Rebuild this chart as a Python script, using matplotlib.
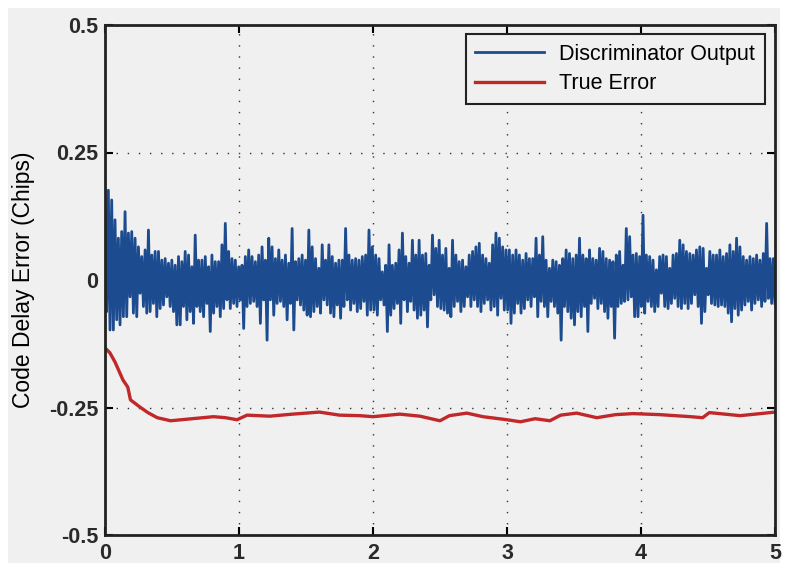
import numpy as np
import matplotlib.pyplot as plt
from matplotlib.patches import Rectangle

plt.rcParams['font.family'] = ['Liberation Sans', 'DejaVu Sans']

# discriminator output, upper / lower swing of each short block of samples (chips)
disc_hi = [
    0.176, 0.176, 0.157, 0.118, 0.082, 0.095, 0.134, 0.092, 0.095, 0.082,
    0.065, 0.046, 0.059, 0.098, 0.049, 0.056, 0.056, 0.039, 0.042, 0.033,
    0.039, 0.029, 0.046, 0.036, 0.056, 0.049, 0.026, 0.088, 0.039, 0.039,
    0.046, 0.026, 0.049, 0.036, 0.036, 0.069, 0.111, 0.056, 0.042, 0.039,
    0.026, 0.029, 0.046, 0.059, 0.046, 0.036, 0.049, 0.065, 0.039, 0.082,
    0.065, 0.042, 0.059, 0.039, 0.049, 0.033, 0.101, 0.036, 0.042, 0.049,
    0.039, 0.098, 0.065, 0.042, 0.023, 0.069, 0.039, 0.069, 0.046, 0.033,
    0.039, 0.039, 0.101, 0.049, 0.039, 0.042, 0.039, 0.046, 0.049, 0.098,
    0.065,
    0.049, 0.042, 0.016, 0.029, 0.069, 0.029, 0.033, 0.059, 0.092, 0.046,
    0.033, 0.078, 0.049, 0.078, 0.049, 0.052, 0.029, 0.088, 0.062, 0.078,
    0.049, 0.062, 0.023, 0.078, 0.049, 0.036, 0.039, 0.026, 0.049, 0.056,
    0.065, 0.072, 0.049, 0.042, 0.033, 0.069, 0.092, 0.082, 0.065, 0.059,
    0.059,
    0.049, 0.059, 0.049, 0.039, 0.052, 0.042, 0.042, 0.082, 0.049, 0.085,
    0.039, 0.023, 0.039, 0.036, 0.029, 0.042, 0.059, 0.052, 0.042, 0.049,
    0.082, 0.049, 0.042, 0.059, 0.042, 0.039, 0.062, 0.056, 0.042, 0.039,
    0.036, 0.049, 0.056, 0.029, 0.101, 0.085, 0.049, 0.052, 0.046, 0.127,
    0.049, 0.046, 0.039, 0.020, 0.046, 0.049, 0.046, 0.023, 0.049, 0.052,
    0.078, 0.069, 0.056, 0.052, 0.049, 0.059, 0.065, 0.062, 0.023, 0.056,
    0.049, 0.049, 0.059, 0.046, 0.052, 0.069, 0.056, 0.082, 0.065, 0.046,
    0.039, 0.046, 0.042, 0.049, 0.039, 0.052, 0.111, 0.042, 0.042,
]
disc_lo = [
    -0.062, -0.098, -0.098, -0.078, -0.088, -0.072, -0.072, -0.033, -0.065, -0.072,
    -0.026, -0.052, -0.065, -0.062, -0.046, -0.072, -0.056, -0.049, -0.033, -0.052,
    -0.062, -0.088, -0.088, -0.052, -0.078, -0.062, -0.085, -0.052, -0.062, -0.072,
    -0.046, -0.101, -0.065, -0.052, -0.072, -0.056, -0.039, -0.056, -0.046, -0.052,
    -0.039, -0.095, -0.052, -0.046, -0.042, -0.052, -0.085, -0.039, -0.118, -0.039,
    -0.069, -0.046, -0.042, -0.052, -0.078, -0.046, -0.098, -0.039, -0.049, -0.059,
    -0.069, -0.072, -0.062, -0.052, -0.065, -0.039, -0.049, -0.065, -0.072, -0.049,
    -0.075, -0.052, -0.039, -0.059, -0.046, -0.062, -0.056, -0.042, -0.069, -0.059,
    -0.059,
    -0.069, -0.039, -0.049, -0.101, -0.069, -0.056, -0.046, -0.085, -0.039, -0.062,
    -0.042, -0.059, -0.075, -0.069, -0.059, -0.092, -0.039, -0.029, -0.052, -0.056,
    -0.059, -0.065, -0.072, -0.052, -0.042, -0.062, -0.052, -0.033, -0.052, -0.039,
    -0.052, -0.062, -0.046, -0.039, -0.059, -0.052, -0.069, -0.036, -0.059, -0.059,
    -0.085,
    -0.065, -0.046, -0.065, -0.056, -0.039, -0.052, -0.033, -0.072, -0.042, -0.052,
    -0.072, -0.042, -0.052, -0.065, -0.118, -0.052, -0.062, -0.075, -0.088, -0.062,
    -0.072, -0.052, -0.101, -0.046, -0.036, -0.056, -0.046, -0.062, -0.075, -0.052,
    -0.114, -0.052, -0.046, -0.042, -0.039, -0.033, -0.072, -0.072, -0.052, -0.065,
    -0.042, -0.052, -0.062, -0.052, -0.026, -0.052, -0.056, -0.046, -0.036, -0.052,
    -0.056, -0.046, -0.056, -0.046, -0.029, -0.052, -0.085, -0.062, -0.029, -0.046,
    -0.049, -0.052, -0.049, -0.052, -0.065, -0.082, -0.056, -0.069, -0.059, -0.049,
    -0.042, -0.059, -0.046, -0.039, -0.052, -0.042, -0.036, -0.046, -0.046,
]

# true code delay error
true_t = [0.0, 0.037, 0.075, 0.134, 0.17, 0.19, 0.26, 0.32, 0.39, 0.49,
          0.61, 0.73, 0.81, 0.90, 0.985, 1.06, 1.23, 1.40, 1.60, 1.75,
          1.90, 2.0, 2.2, 2.35, 2.5, 2.57, 2.70, 2.82, 3.0, 3.1,
          3.21, 3.32, 3.40, 3.52, 3.67, 3.81, 3.94, 4.14, 4.37, 4.46,
          4.51, 4.74, 4.89, 5.0]
true_err = [-0.133, -0.143, -0.161, -0.196, -0.21, -0.235, -0.249, -0.26, -0.27, -0.276,
            -0.273, -0.27, -0.268, -0.27, -0.274, -0.265, -0.267, -0.263, -0.259, -0.265,
            -0.266, -0.268, -0.263, -0.267, -0.276, -0.266, -0.261, -0.268, -0.274, -0.278,
            -0.272, -0.276, -0.265, -0.261, -0.27, -0.264, -0.262, -0.264, -0.268, -0.27,
            -0.26, -0.266, -0.262, -0.259]

yticks = [-0.5, -0.25, 0, 0.25, 0.5]
ylabels = ['-0.5', '-0.25', '0', '0.25', '0.5']

bg = '#f0f0f0'
fig = plt.figure(figsize=(7.85, 5.63), dpi=100, facecolor='white')
fig.patches.append(Rectangle((8 / 785, 0), 772 / 785, 555 / 563,
                             transform=fig.transFigure, facecolor=bg,
                             edgecolor='none', zorder=-10))
ax = fig.add_axes([105 / 785, 28 / 563, 670 / 785, 510 / 563])
ax.set_facecolor(bg)

# interleave highs and lows so the trace zig-zags like the raw samples
disc = np.empty(2 * len(disc_hi))
disc[0::2] = disc_hi
disc[1::2] = disc_lo
t = np.linspace(0, 5, len(disc))

ax.plot(t, disc, color='#1c4b8f', lw=2.0, label='Discriminator Output')
ax.plot(true_t, true_err, color='#c0282a', lw=2.4, label='True Error')

ax.set_xlim(0, 5)
ax.set_ylim(-0.5, 0.5)
ax.set_xticks([0, 1, 2, 3, 4, 5])
ax.set_yticks(yticks)
ax.set_yticklabels(ylabels)
ax.grid(True, color='#333333', linestyle=(0, (1, 7)), lw=1.0)
ax.tick_params(direction='in', length=6, width=1.5, top=True, right=True,
               labelsize=15.5, pad=5)
ax.tick_params(axis='x', pad=6)
for lab in ax.get_xticklabels() + ax.get_yticklabels():
    lab.set_fontweight('bold')
    lab.set_color('#2a2a2a')
for sp in ax.spines.values():
    sp.set_linewidth(2)
    sp.set_color('#222222')

ax.set_ylabel('Code Delay Error (Chips)', fontsize=16.5, labelpad=10)

leg = ax.legend(loc='upper right', bbox_to_anchor=(0.985, 0.982), fontsize=15.5,
                fancybox=False, facecolor=bg, edgecolor='#222222', framealpha=1,
                handlelength=3.2, handletextpad=0.7, borderpad=0.45,
                labelspacing=0.4, borderaxespad=0)
leg.get_frame().set_linewidth(1.5)

fig.savefig('out.png', dpi=100, facecolor=fig.get_facecolor())
